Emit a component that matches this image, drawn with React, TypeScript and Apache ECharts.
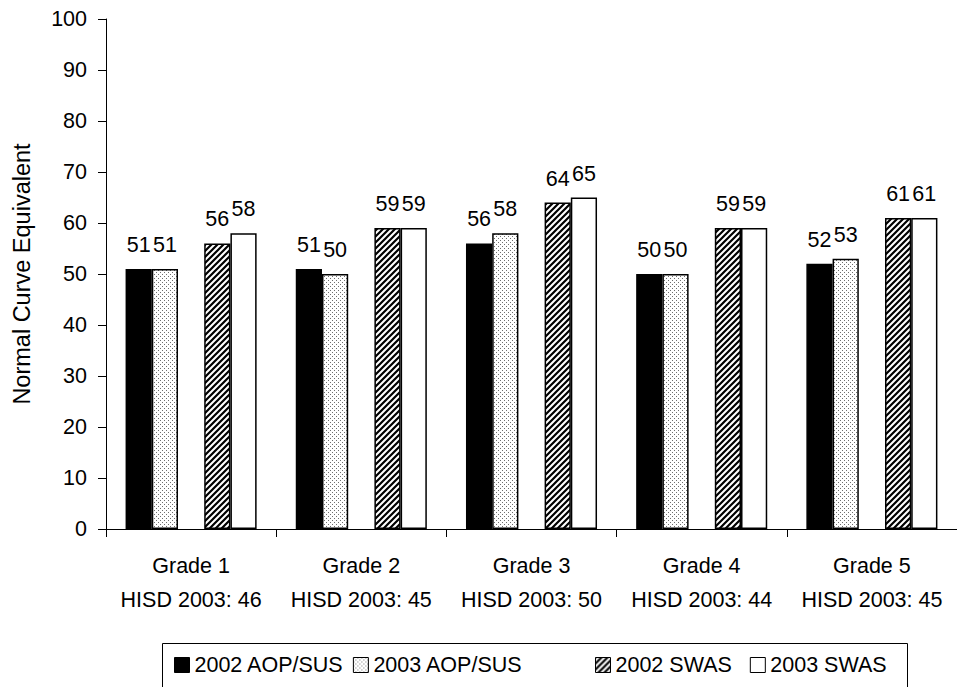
import React, { useEffect, useRef } from 'react';
import * as echarts from 'echarts';

const categories = ['Grade 1', 'Grade 2', 'Grade 3', 'Grade 4', 'Grade 5'];
const hisd2003 = [46, 45, 50, 44, 45];
const aop2002 = [51, 51, 56, 50, 52];
const aop2003 = [51, 50, 58, 50, 53];
const swas2002 = [56, 59, 64, 59, 61];
const swas2003 = [58, 59, 65, 59, 61];
const seriesNames = ['2002 AOP/SUS', '2003 AOP/SUS', '2002 SWAS', '2003 SWAS'];

const FONT = '"Liberation Sans", Arial, sans-serif';
const FS = 21.5;

function makeDots(): HTMLCanvasElement {
  const c = document.createElement('canvas');
  c.width = 4;
  c.height = 4;
  const ctx = c.getContext('2d')!;
  ctx.fillStyle = '#ffffff';
  ctx.fillRect(0, 0, 4, 4);
  ctx.fillStyle = '#6e6e6e';
  ctx.fillRect(0, 0, 1, 1);
  ctx.fillRect(2, 2, 1, 1);
  return c;
}

function makeHatch(): HTMLCanvasElement {
  const s = 6;
  const c = document.createElement('canvas');
  c.width = s;
  c.height = s;
  const ctx = c.getContext('2d')!;
  ctx.fillStyle = '#ffffff';
  ctx.fillRect(0, 0, s, s);
  ctx.strokeStyle = '#000000';
  ctx.lineWidth = 2.2;
  ctx.beginPath();
  ctx.moveTo(-1, s + 1);
  ctx.lineTo(s + 1, -1);
  ctx.moveTo(-2, 2);
  ctx.lineTo(2, -2);
  ctx.moveTo(s - 2, s + 2);
  ctx.lineTo(s + 2, s - 2);
  ctx.stroke();
  return c;
}

export default function App() {
  const ref = useRef<HTMLDivElement>(null);

  useEffect(() => {
    if (!ref.current) return;
    const chart = echarts.init(ref.current, undefined, { renderer: 'svg' });
    const dots = makeDots();
    const hatch = makeHatch();

    const labelCfg = {
      show: true,
      position: 'top' as const,
      distance: 13,
      color: '#000',
      fontSize: FS,
      fontFamily: FONT,
    };

    const mk = (name: string, data: number[], color: any) => ({
      type: 'bar',
      name,
      data,
      barGap: '0%',
      barCategoryGap: '23%',
      itemStyle: { color, borderColor: '#000', borderWidth: 1.5 },
      label: labelCfg,
      emphasis: { disabled: true },
    });

    const legendBase = {
      top: 654,
      padding: 0,
      itemWidth: 15,
      itemHeight: 15,
      icon: 'rect',
      itemStyle: { borderWidth: 1 },
      textStyle: { fontSize: FS, fontFamily: FONT, color: '#000' },
      selectedMode: false,
    };

    chart.setOption({
      animation: false,
      textStyle: { fontFamily: FONT },
      grid: { left: 106, top: 19, width: 860, height: 510 },
      xAxis: {
        type: 'category',
        data: categories,
        axisLine: { show: true, lineStyle: { color: '#000', width: 1 } },
        axisTick: { show: true, length: 8, lineStyle: { color: '#000' } },
        axisLabel: {
          interval: 0,
          margin: 20,
          fontSize: FS,
          fontFamily: FONT,
          color: '#000',
          lineHeight: 34,
          formatter: (v: string, i: number) => `${v}\nHISD 2003: ${hisd2003[i]}`,
        },
      },
      yAxis: {
        type: 'value',
        min: 0,
        max: 100,
        interval: 10,
        name: 'Normal Curve Equivalent',
        nameLocation: 'middle',
        nameGap: 72,
        nameTextStyle: { fontSize: 23.5, fontFamily: FONT, color: '#000' },
        axisLine: { show: true, lineStyle: { color: '#000', width: 1 } },
        axisTick: { show: true, length: 8, lineStyle: { color: '#000' } },
        splitLine: { show: false },
        axisLabel: { margin: 19, fontSize: FS, fontFamily: FONT, color: '#000' },
      },
      legend: [
        { ...legendBase, left: 174, itemGap: 9, data: [seriesNames[0], seriesNames[1]] },
        { ...legendBase, left: 595, itemGap: 18, data: [seriesNames[2], seriesNames[3]] },
      ],
      graphic: [
        {
          type: 'rect',
          silent: true,
          shape: { x: 162.5, y: 643.5, width: 745, height: 60 },
          style: { fill: 'none', stroke: '#000', lineWidth: 1 },
        },
      ],
      series: [
        mk(seriesNames[0], aop2002, '#000'),
        mk(seriesNames[1], aop2003, { image: dots, repeat: 'repeat', imageWidth: 4, imageHeight: 4 }),
        {
          type: 'bar',
          name: 'spacer',
          data: categories.map(() => null),
          barGap: '0%',
          barCategoryGap: '23%',
          itemStyle: { color: 'transparent' },
        },
        mk(seriesNames[2], swas2002, { image: hatch, repeat: 'repeat', imageWidth: 6, imageHeight: 6 }),
        mk(seriesNames[3], swas2003, '#fff'),
      ],
    });

    return () => chart.dispose();
  }, []);

  return (
    <div
      ref={ref}
      style={{ position: 'absolute', left: 0, top: 0, width: 957, height: 687 }}
    />
  );
}
